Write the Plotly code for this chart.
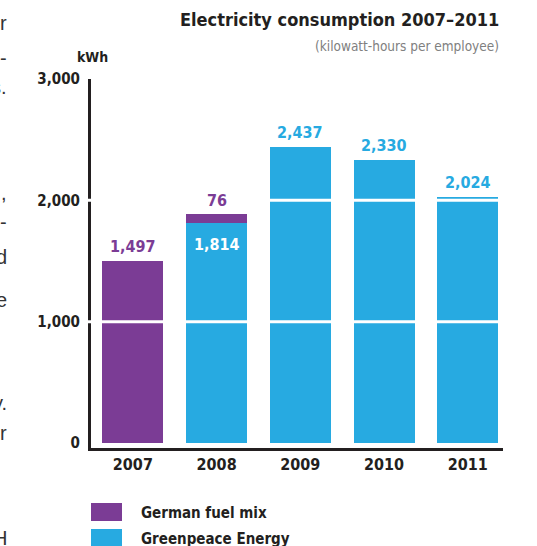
import plotly.graph_objects as go

years = ["2007", "2008", "2009", "2010", "2011"]
german_fuel_mix = [1497, 76, None, None, None]
greenpeace_energy = [None, 1814, 2437, 2330, 2024]
y_ticks = [0, 1000, 2000, 3000]
y_ticklabels = ["0", "1,000", "2,000", "3,000"]
side_fragments = ["r", "-", "s.", ",", "-", "d", "e", "y.", "r", "H"]
side_fragment_y = [23, 58, 87, 193, 222, 257, 300, 403, 433, 538]

PURPLE = "#7b3c95"
BLUE = "#27aae1"
DARK = "#231f20"
FONT = "DejaVu Sans Condensed, Liberation Sans Narrow, sans-serif"

W, H = 537, 546
L, R, T, B = 91, 503, 79, 448


def px(x):
    return (x - L) / (R - L)


def py(y):
    return (B - y) / (B - T)


def fnt(size, color, weight="bold"):
    return dict(family=FONT, size=size, color=color, weight=weight)


fig = go.Figure()
fig.add_trace(go.Bar(x=years, y=greenpeace_energy, name="Greenpeace Energy",
                     marker=dict(color=BLUE, line=dict(width=0)), width=0.73))
fig.add_trace(go.Bar(x=years, y=german_fuel_mix, name="German fuel mix",
                     marker=dict(color=PURPLE, line=dict(width=0)), width=0.73))

ann = []
for i, yr in enumerate(years):
    g = german_fuel_mix[i] or 0
    b = greenpeace_energy[i] or 0
    top = g + b
    if g and b:
        ann.append(dict(xref="x", yref="y", x=i, y=top, text="{:,}".format(g), showarrow=False,
                        yanchor="bottom", yshift=2, font=fnt(16, PURPLE)))
        ann.append(dict(xref="x", yref="y", x=i, y=b, text="{:,}".format(b), showarrow=False,
                        yanchor="top", yshift=-10, font=fnt(16, "white")))
    else:
        col = PURPLE if g else BLUE
        ann.append(dict(xref="x", yref="y", x=i, y=top, text="{:,}".format(top), showarrow=False,
                        yanchor="bottom", yshift=3, font=fnt(16, col)))

# title and subtitle
ann.append(dict(xref="paper", yref="paper", x=px(501), y=py(20), xanchor="right", yanchor="middle",
                text="Electricity consumption 2007–2011", showarrow=False, font=fnt(18, DARK)))
ann.append(dict(xref="paper", yref="paper", x=px(501), y=py(46), xanchor="right", yanchor="middle",
                text="(kilowatt-hours per employee)", showarrow=False,
                font=fnt(13.5, "#808080", "normal")))
ann.append(dict(xref="paper", yref="paper", x=px(92), y=py(57), xanchor="center", yanchor="middle",
                text="kWh", showarrow=False, font=fnt(14, DARK)))

# legend
shapes = []
legend_items = [("German fuel mix", PURPLE, 512), ("Greenpeace Energy", BLUE, 538)]
for label, col, yc in legend_items:
    shapes.append(dict(type="rect", xref="paper", yref="paper", x0=px(91), x1=px(122),
                       y0=py(yc - 9), y1=py(yc + 9), fillcolor=col, line=dict(width=0)))
    ann.append(dict(xref="paper", yref="paper", x=px(139), y=py(yc + 1), xanchor="left", yanchor="middle",
                    text=label, showarrow=False, font=fnt(15, DARK)))

# clipped text from neighbouring column
for t, yy in zip(side_fragments, side_fragment_y):
    ann.append(dict(xref="paper", yref="paper", x=px(9), y=py(yy), xanchor="right", yanchor="middle",
                    text=t, showarrow=False,
                    font=dict(family="Liberation Sans, Arial, sans-serif", size=20, color="#333333")))

# white gridlines over bars
for v in y_ticks[1:3]:
    shapes.append(dict(type="line", xref="paper", yref="y", x0=px(88), x1=1, y0=v, y1=v,
                       line=dict(color="white", width=3), layer="above"))

fig.update_layout(
    width=W, height=H,
    margin=dict(l=L, r=W - R, t=T, b=H - B),
    barmode="stack",
    showlegend=False,
    plot_bgcolor="white", paper_bgcolor="white",
    annotations=ann, shapes=shapes,
    xaxis=dict(type="category", range=[-0.5, 4.42], showline=True, linecolor=DARK, linewidth=3,
               ticks="", showgrid=False, tickfont=fnt(16, DARK)),
    yaxis=dict(range=[-41, 3000], tickvals=y_ticks, ticktext=y_ticklabels,
               showline=True, linecolor=DARK, linewidth=3, ticks="", showgrid=False,
               zeroline=False, ticklabelstandoff=5, tickfont=fnt(15, DARK)),
)

fig.write_html("out.html")
